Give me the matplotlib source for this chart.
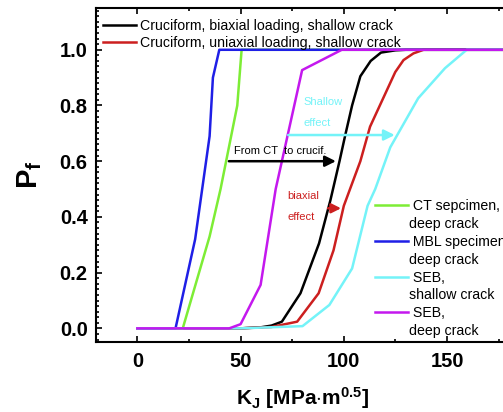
import matplotlib
matplotlib.use('Agg')
import matplotlib.pyplot as plt
from matplotlib.lines import Line2D
from matplotlib.ticker import MultipleLocator

plt.rcParams['font.family'] = ['Liberation Sans', 'DejaVu Sans']
plt.rcParams['mathtext.fontset'] = 'custom'
plt.rcParams['mathtext.rm'] = 'Liberation Sans'
plt.rcParams['mathtext.it'] = 'Liberation Sans:italic'
plt.rcParams['mathtext.bf'] = 'Liberation Sans:bold'

# failure probability P_f against K_J [MPa m^0.5]
kj_cruc_biax = [0, 50, 60, 65, 70, 79, 88, 93.5, 97.9, 100.7, 104, 108, 113, 118, 125, 130, 180]
pf_cruc_biax = [0, 0, 0.004, 0.01, 0.024, 0.126, 0.305, 0.46, 0.6, 0.694, 0.8, 0.905, 0.96, 0.99, 0.998, 1.0, 1.0]

kj_cruc_uni = [0, 50, 65, 77.4, 87.8, 95, 100, 104, 108, 112.7, 124.9, 128.9, 133.7, 138.6, 180]
pf_cruc_uni = [0, 0, 0.005, 0.024, 0.126, 0.28, 0.44, 0.52, 0.6, 0.724, 0.92, 0.963, 0.987, 1.0, 1.0]

kj_ct = [0, 22, 35, 40.3, 48.4, 50.5, 180]
pf_ct = [0, 0, 0.33, 0.5, 0.8, 1.0, 1.0]

kj_mbl = [0, 18.5, 28, 35, 36.6, 39.7, 180]
pf_mbl = [0, 0, 0.32, 0.69, 0.9, 1.0, 1.0]

kj_seb_shallow = [0, 50, 80, 93, 104, 111.5, 115.2, 122.5, 136, 149, 159.5, 180]
pf_seb_shallow = [0, 0, 0.008, 0.084, 0.215, 0.44, 0.5, 0.65, 0.826, 0.934, 1.0, 1.0]

kj_seb_deep = [0, 44.5, 50, 59.7, 67, 73, 79.8, 99, 180]
pf_seb_deep = [0, 0, 0.015, 0.156, 0.5, 0.7, 0.927, 1.0, 1.0]

c_black = 'black'
c_red = '#cc1f1f'
c_green = '#7ded35'
c_blue = '#1f1fe6'
c_cyan = '#74f3f8'
c_mag = '#c418ee'

fig = plt.figure(figsize=(5.03, 4.12), dpi=100)
ax = fig.add_axes([0.1909, 0.1692, 0.8211, 0.8114])

lw = 1.8
ax.plot(kj_cruc_biax, pf_cruc_biax, color=c_black, lw=lw)
ax.plot(kj_cruc_uni, pf_cruc_uni, color=c_red, lw=lw)
ax.plot(kj_ct, pf_ct, color=c_green, lw=lw)
ax.plot(kj_mbl, pf_mbl, color=c_blue, lw=lw)
ax.plot(kj_seb_shallow, pf_seb_shallow, color=c_cyan, lw=lw)
ax.plot(kj_seb_deep, pf_seb_deep, color=c_mag, lw=lw)

ax.set_xlim(-20, 180)
ax.set_ylim(-0.05, 1.15)

# arrows and notes
ax.annotate('', xy=(97.5, 0.6), xytext=(43, 0.6),
            arrowprops=dict(arrowstyle='-|>', color='black', lw=1.8, mutation_scale=16))
ax.text(46.6, 0.637, 'From CT  to crucif.', fontsize=8, color='black', va='center', ha='left')

ax.annotate('', xy=(126, 0.694), xytext=(71.7, 0.694),
            arrowprops=dict(arrowstyle='-|>', color=c_cyan, lw=1.8, mutation_scale=16))
ax.text(80.4, 0.814, 'Shallow', fontsize=8, color=c_cyan, va='center', ha='left')
ax.text(80.4, 0.736, 'effect', fontsize=8, color=c_cyan, va='center', ha='left')

ax.annotate('', xy=(100, 0.431), xytext=(91, 0.431),
            arrowprops=dict(arrowstyle='-|>', color=c_red, lw=1.8, mutation_scale=14))
ax.text(72.6, 0.475, 'biaxial', fontsize=8, color=c_red, va='center', ha='left')
ax.text(72.6, 0.399, 'effect', fontsize=8, color=c_red, va='center', ha='left')

# ticks
ax.xaxis.set_major_locator(MultipleLocator(50))
ax.xaxis.set_minor_locator(MultipleLocator(25))
ax.yaxis.set_major_locator(MultipleLocator(0.2))
ax.yaxis.set_minor_locator(MultipleLocator(0.02))
ax.tick_params(which='both', direction='in', top=True, right=True, width=1.2)
ax.tick_params(which='major', length=4.5)
ax.tick_params(which='minor', length=2.5)
ax.tick_params(axis='x', which='major', pad=7, labelsize=14.5)
ax.tick_params(axis='y', which='major', pad=6, labelsize=14.5)
ax.set_yticks([0, 0.2, 0.4, 0.6, 0.8, 1.0])
ax.set_yticklabels(['0.0', '0.2', '0.4', '0.6', '0.8', '1.0'], fontweight='bold')
ax.set_xticks([0, 50, 100, 150])
ax.set_xticklabels(['0', '50', '100', '150'], fontweight='bold')
for sp in ax.spines.values():
    sp.set_linewidth(1.5)

ax.set_xlabel(r'$\mathbf{K_J}$ $\mathbf{[MPa{\cdot}m^{0.5}]}$', fontsize=15, labelpad=10)
ax.set_ylabel(r'$\mathbf{P_f}$', fontsize=21, labelpad=11)

# legends
h1 = [Line2D([], [], color=c_black, lw=lw), Line2D([], [], color=c_red, lw=lw)]
leg1 = ax.legend(h1, ['Cruciform, biaxial loading, shallow crack',
                      'Cruciform, uniaxial loading, shallow crack'],
                 loc='upper left', bbox_to_anchor=(0.017, 0.967), frameon=False,
                 fontsize=10.2, borderpad=0, borderaxespad=0, handlelength=2.3,
                 handletextpad=0.3, labelspacing=0.22)
ax.add_artist(leg1)

blank = Line2D([], [], linestyle='none')
h2 = [Line2D([], [], color=c_green, lw=lw), blank,
      Line2D([], [], color=c_blue, lw=lw), blank,
      Line2D([], [], color=c_cyan, lw=lw), blank,
      Line2D([], [], color=c_mag, lw=lw), blank]
l2 = [' CT sepcimen,', 'deep crack', ' MBL specimen,', 'deep crack',
      ' SEB,', 'shallow crack', ' SEB,', 'deep crack']
ax.legend(h2, l2, loc='upper left', bbox_to_anchor=(0.6755, 0.428), frameon=False,
          fontsize=10.2, borderpad=0, borderaxespad=0, handlelength=2.3,
          handletextpad=0.1, labelspacing=0.27)

fig.savefig('out.png', dpi=100)
